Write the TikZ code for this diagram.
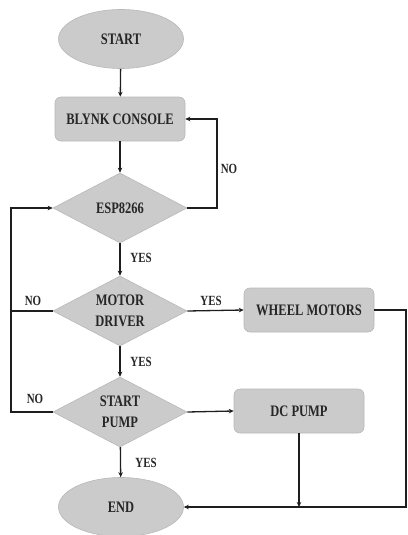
\documentclass[tikz,border=0pt]{standalone}
\usepackage{fontspec}
\setmainfont{Liberation Serif}[FakeStretch=0.78]
\usetikzlibrary{shapes.geometric,arrows.meta}
\definecolor{nodefill}{HTML}{CBCBCB}
\definecolor{nodeedge}{HTML}{B8B8B8}
\definecolor{txt}{HTML}{262626}
\definecolor{ln}{HTML}{1E1E1E}
\begin{document}
\begin{tikzpicture}[x=1pt,y=-1pt,
  base/.style={fill=nodefill,draw=nodeedge,line width=0.6pt,text=txt,
    font=\fontsize{16}{21}\selectfont\bfseries,align=center,inner sep=0pt},
  term/.style={base,ellipse,minimum width=125pt,minimum height=59pt},
  proc/.style={base,rectangle,rounded corners=6pt,minimum width=130pt,minimum height=44pt},
  dec/.style={base,diamond,aspect=1.9,minimum width=134pt,minimum height=70pt},
  lbl/.style={text=txt,font=\fontsize{14}{16}\selectfont\bfseries,inner sep=0pt},
  conn/.style={draw=ln,line width=1.3pt,-{Stealth[length=5pt,width=4.5pt]}},
  plain/.style={draw=ln,line width=1.3pt}]
\useasboundingbox (0,0) rectangle (407,535);
\node[term] (start) at (121,39) {START};
\node[proc] (blynk) at (120,119) {BLYNK CONSOLE};
\node[dec] (esp) at (120,208) {ESP8266};
\node[dec] (motor) at (120,311) {MOTOR\\DRIVER};
\node[proc] (wheel) at (309,310) {WHEEL MOTORS};
\node[dec] (pump) at (120,412) {START\\PUMP};
\node[proc] (dc) at (299,411) {DC PUMP};
\node[term] (end) at (121,507) {END};
\coordinate (r1) at (217,208);
\coordinate (l1) at (11,412);
\coordinate (l2) at (11,208);
\coordinate (l3) at (11,311);
\coordinate (rw) at (406,310);
\coordinate (rb) at (406,507);
\coordinate (dj) at (299,507);
\draw[conn] (start) -- (blynk);
\draw[conn] (blynk) -- (esp);
\draw[conn] (esp.east) -- (r1) |- (blynk.east);
\draw[conn] (esp) -- (motor);
\draw[conn] (motor.east) -- (wheel.west);
\draw[conn] (motor) -- (pump);
\draw[conn] (pump.east) -- (dc.west);
\draw[conn] (pump) -- (end);
\draw[conn] (pump.west) -- (l1) -- (l2) -- (esp.west);
\draw[plain] (motor.west) -- (l3);
\draw[conn] (wheel.east) -- (rw) -- (rb) -- (end.east);
\draw[conn] (dc.south) -- (dj);
\node[lbl] (no1) at (229,169) {NO};
\node[lbl] (yes1) at (141,258) {YES};
\node[lbl] (no2) at (33,301) {NO};
\node[lbl] (yes2) at (211,301) {YES};
\node[lbl] (yes3) at (141,362) {YES};
\node[lbl] (no3) at (35,399) {NO};
\node[lbl] (yes4) at (146,463) {YES};
\end{tikzpicture}
\end{document}
